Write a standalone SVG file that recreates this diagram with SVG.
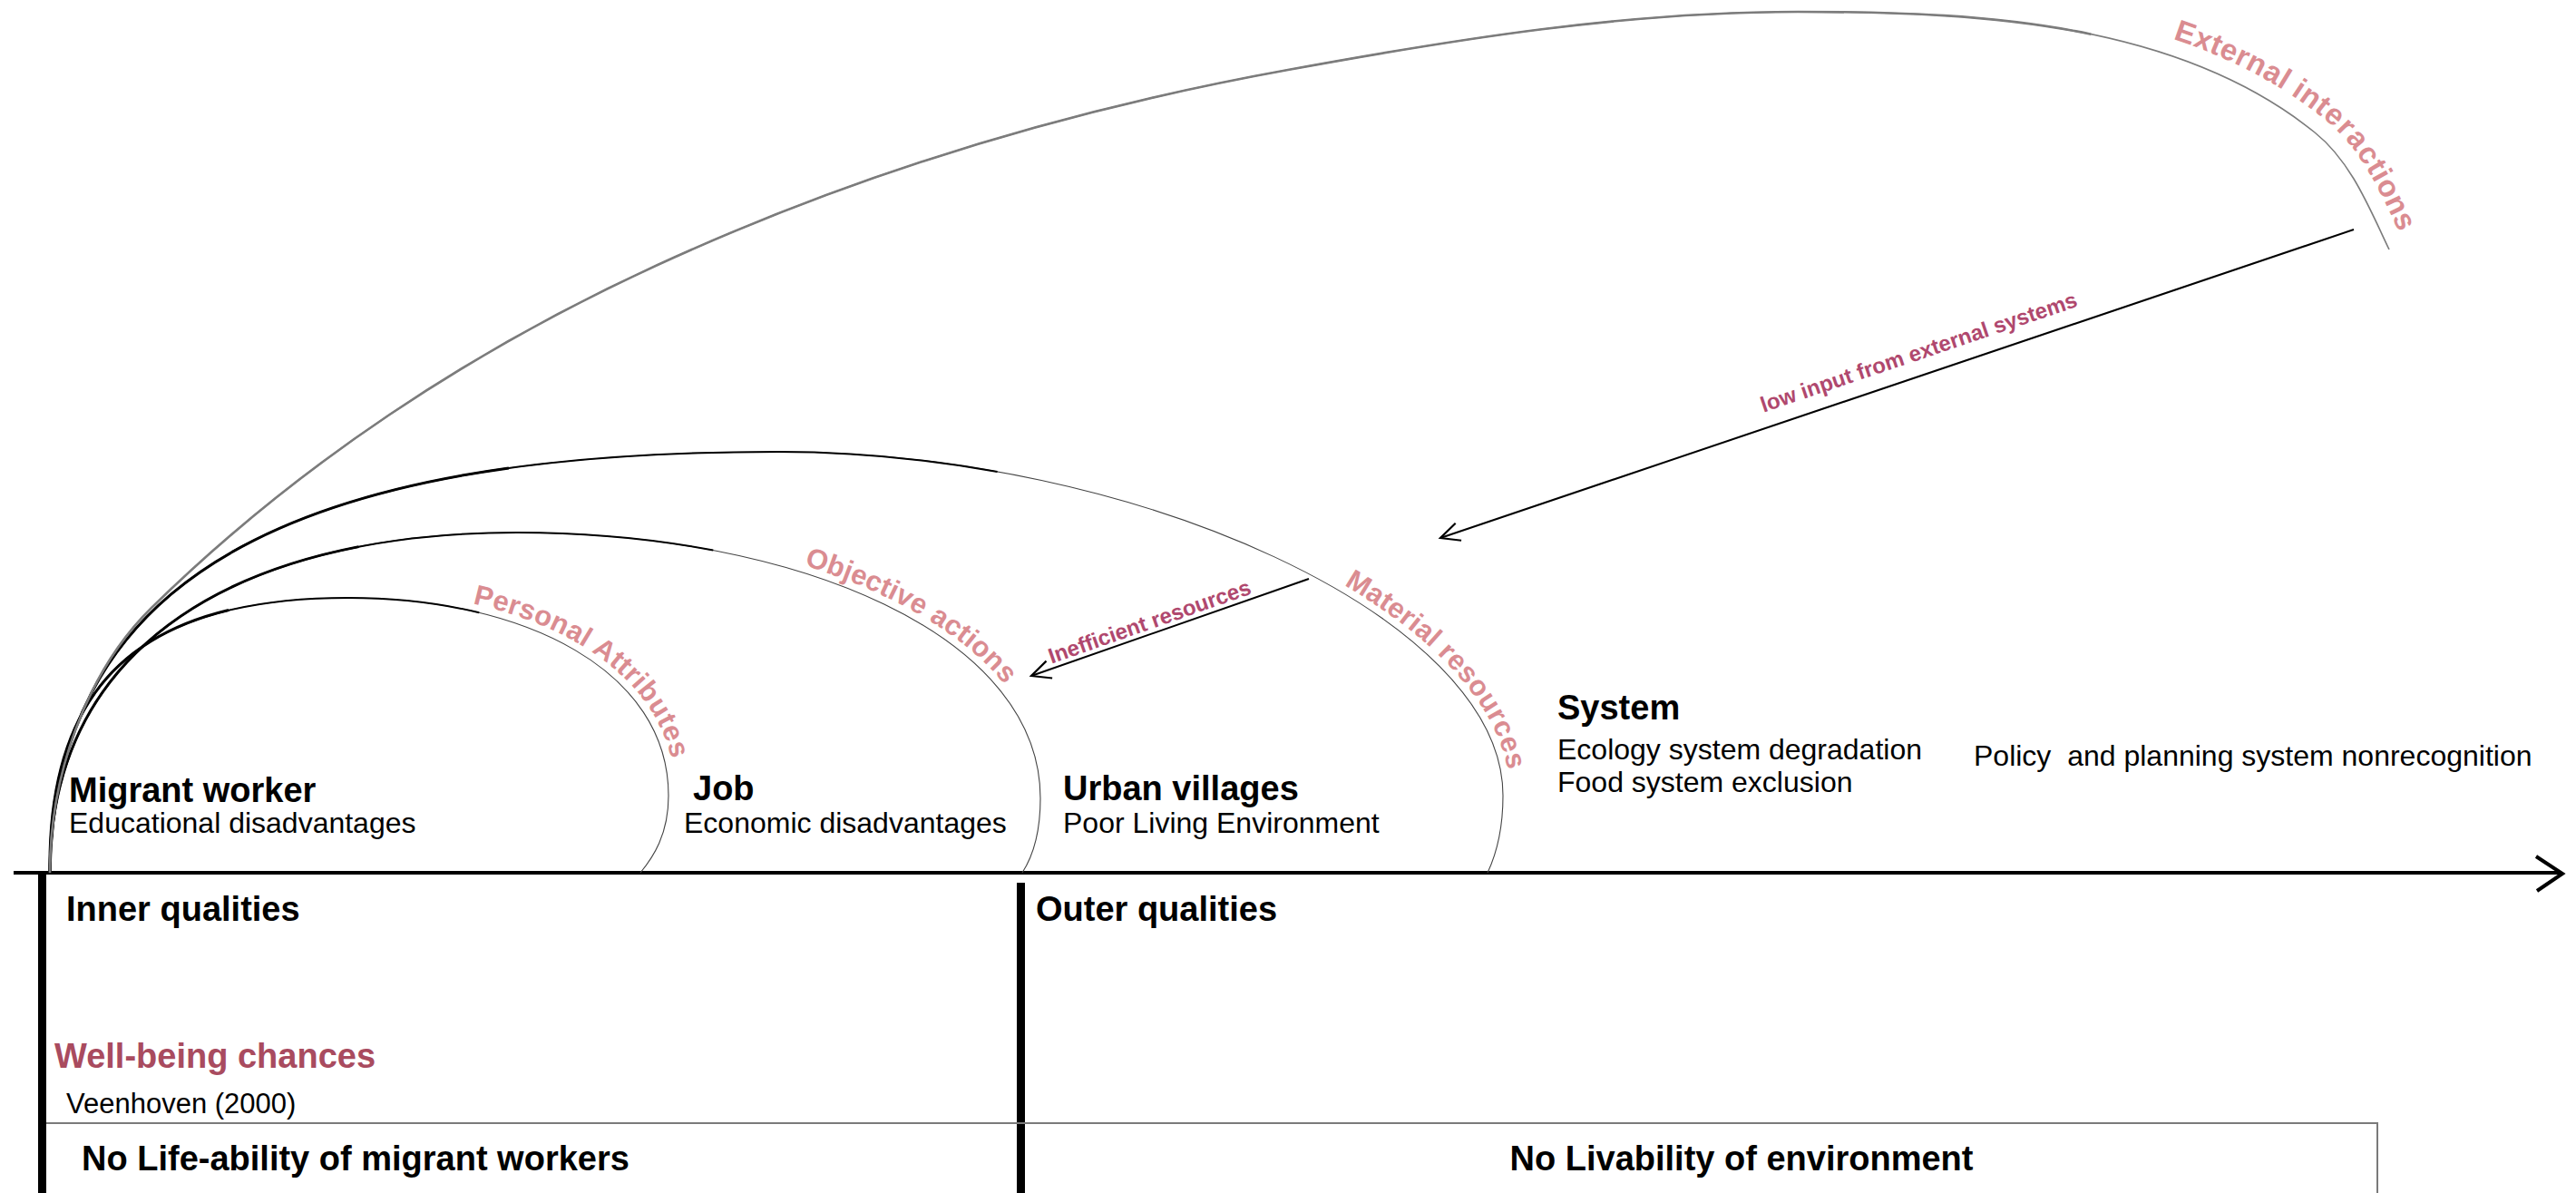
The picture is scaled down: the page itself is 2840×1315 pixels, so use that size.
<svg xmlns="http://www.w3.org/2000/svg" xmlns:xlink="http://www.w3.org/1999/xlink" width="2840" height="1315" viewBox="0 0 2840 1315">
<style>
text{font-family:"Liberation Sans",Arial,Helvetica,sans-serif}
.b{font-weight:700;font-size:38px;fill:#000}
.r{font-size:32px;fill:#000}
.al{font-weight:700;font-size:31px;fill:#da8c91}
.lk{font-weight:700;font-size:24px;fill:#b0486e}
.wb{font-weight:700;font-size:38px;fill:#a94b5f}
.base{fill:none;stroke:#444;stroke-width:1.1}
.mid{fill:none;stroke:#000;stroke-width:2;stroke-dasharray:62 200}
.thick{fill:none;stroke:#000;stroke-width:3;stroke-dasharray:36 200}
.ext{fill:none;stroke:#7c7c7c;stroke-width:1.6}
.ext2{fill:none;stroke:#7c7c7c;stroke-width:2.6;stroke-dasharray:86 200}
.conn{fill:none;stroke:#000;stroke-width:2}
</style>
<defs>
<path id="a1" pathLength="100" d="M55,962 C52,740 170,659 384,659 C580,659 737,740 737,877 C737,920 720,945 706,962"/>
<path id="a2" pathLength="100" d="M55,962 C55,700 280,587 570,587 C880,587 1147,700 1147,880 C1147,920 1138,945 1127,962"/>
<path id="a3" pathLength="100" d="M55,962 C60,620 350,498 858,498 C1250,498 1657,680 1657,877 C1657,920 1648,945 1640,962"/>
<path id="a4" pathLength="100" d="M55,962 C55,858 93,743 167,670 C328,512 520,386 725,292 C945,191 1182,120 1420,77 C1606,43 1793,13 1982,13 C2177,13 2400,23 2552,146 C2592,178 2612,229 2634,275"/>
<path id="t1" d="M384,659 C580,659 737,740 737,877 L737,960"/>
<path id="t2" d="M570,587 C880,587 1147,700 1147,880 L1147,960"/>
<path id="t3" d="M858,498 C1250,498 1657,680 1657,877 L1657,960"/>
<path id="t4" d="M1982,13 C2177,13 2400,23 2552,146 C2592,178 2612,229 2634,275 L2650,330"/>
<marker id="open" viewBox="0 0 30 30" refX="27" refY="15" markerWidth="30" markerHeight="30" markerUnits="userSpaceOnUse" orient="auto">
<path d="M6,5 L27,15 L6,25" fill="none" stroke="#000" stroke-width="2.2"/>
</marker>
</defs>
<rect width="2840" height="1315" fill="#fff"/>

<g id="axis">
<line x1="15" y1="962" x2="2824" y2="962" stroke="#000" stroke-width="4"/>
<path d="M2796,944 L2825,963 L2797,982" fill="none" stroke="#000" stroke-width="4"/>
<rect x="42" y="962" width="9" height="353" fill="#000"/>
<rect x="1121" y="973" width="9" height="342" fill="#000"/>
<path d="M51,1238 H2621 V1315" fill="none" stroke="#7a7a7a" stroke-width="2"/>
</g>

<g id="ring-personal-attributes">
<use xlink:href="#a1" class="base"/><use xlink:href="#a1" class="mid"/><use xlink:href="#a1" class="thick"/>
<text class="al"><textPath xlink:href="#t1" startOffset="136"><tspan dy="-8">Personal Attributes</tspan></textPath></text>
</g>
<g id="ring-objective-actions">
<use xlink:href="#a2" class="base"/><use xlink:href="#a2" class="mid"/><use xlink:href="#a2" class="thick"/>
<text class="al"><textPath xlink:href="#t2" startOffset="318"><tspan dy="-8">Objective actions</tspan></textPath></text>
</g>
<g id="ring-material-resources">
<use xlink:href="#a3" class="base"/><use xlink:href="#a3" class="mid"/><use xlink:href="#a3" class="thick"/>
<text class="al"><textPath xlink:href="#t3" startOffset="645"><tspan dy="-8">Material resources</tspan></textPath></text>
</g>
<g id="ring-external-interactions">
<use xlink:href="#a4" class="ext"/><use xlink:href="#a4" class="ext2"/>
<text class="al" style="font-size:33px"><textPath xlink:href="#t4" startOffset="412"><tspan dy="-18">External interactions</tspan></textPath></text>
</g>

<g id="node-migrant-worker">
<text class="b" x="76" y="884">Migrant worker</text>
<text class="r" x="76" y="918">Educational disadvantages</text>
</g>
<g id="node-job">
<text class="b" x="764" y="882">Job</text>
<text class="r" x="754" y="918">Economic disadvantages</text>
</g>
<g id="node-urban-villages">
<text class="b" x="1172" y="882">Urban villages</text>
<text class="r" x="1172" y="918">Poor Living Environment</text>
</g>
<g id="node-system">
<text class="b" x="1717" y="793">System</text>
<text class="r" x="1717" y="837">Ecology system degradation</text>
<text class="r" x="1717" y="873">Food system exclusion</text>
</g>
<g id="node-policy">
<text class="r" x="2176" y="844" xml:space="preserve">Policy  and planning system nonrecognition</text>
</g>
<g id="node-inner-qualities">
<text class="b" x="73" y="1015">Inner qualities</text>
</g>
<g id="node-outer-qualities">
<text class="b" x="1142" y="1015">Outer qualities</text>
</g>
<g id="node-well-being">
<text class="wb" x="60" y="1177">Well-being chances</text>
<text class="r" x="73" y="1227" style="font-size:31px">Veenhoven (2000)</text>
</g>
<g id="node-life-ability">
<text class="b" x="90" y="1290">No Life-ability of migrant workers</text>
</g>
<g id="node-livability">
<text class="b" x="1920" y="1290" text-anchor="middle">No Livability of environment</text>
</g>

<g id="connectors">
<line class="conn" x1="2595" y1="253" x2="1588" y2="593" marker-end="url(#open)"/>
<text class="lk" text-anchor="middle" transform="translate(2118,396) rotate(-18.66)">low input from external systems</text>
<line class="conn" x1="1443" y1="638" x2="1137" y2="745" marker-end="url(#open)"/>
<text class="lk" text-anchor="middle" transform="translate(1270,693) rotate(-19.3)">Inefficient resources</text>
</g>
</svg>
